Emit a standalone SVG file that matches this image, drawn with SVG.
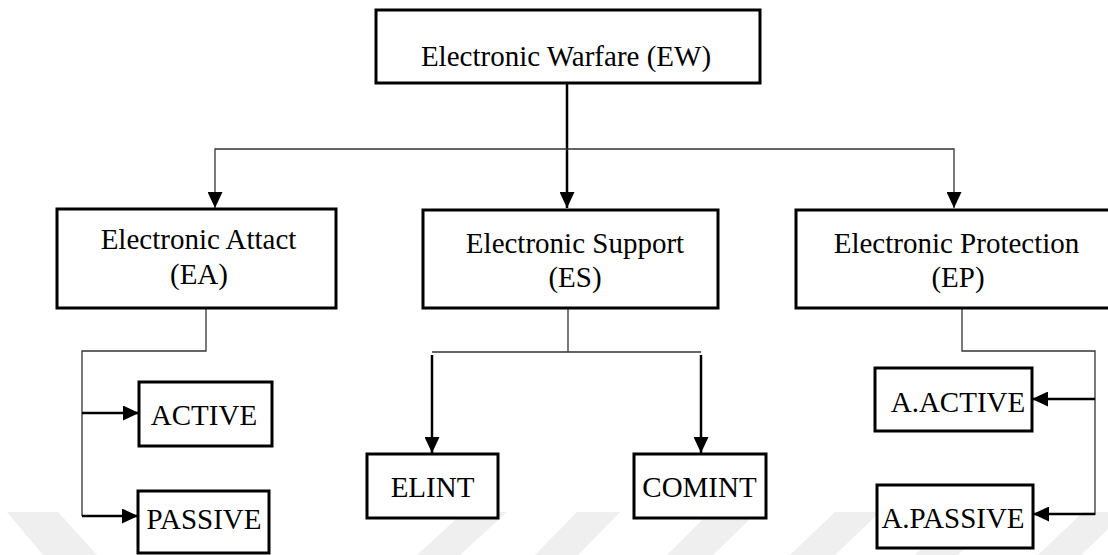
<svg xmlns="http://www.w3.org/2000/svg" width="1108" height="555" viewBox="0 0 1108 555">
<style>
.box{fill:#fff;stroke:#000;stroke-width:3}
.t{font-family:"Liberation Serif","Times New Roman",serif;font-size:29px;fill:#000;text-anchor:middle}
.thin{fill:none;stroke:#333;stroke-width:1.3}
.thick{fill:none;stroke:#000;stroke-width:2.5}
.wm{fill:#efefef}
</style>
<defs>
<marker id="arr" viewBox="0 0 16 15" refX="16" refY="7.5" markerWidth="16" markerHeight="15" markerUnits="userSpaceOnUse" orient="auto"><path d="M0,0 L16,7.5 L0,15 z" fill="#000"/></marker>
</defs>
<g id="watermark">
<polygon class="wm" points="7,512 58,512 97,555 43,555"/>
<polygon class="wm" points="464,512 507,512 460,555 417,555"/>
<polygon class="wm" points="577,512 620,512 578,555 535,555"/>
<polygon class="wm" points="710,512 757,512 713,555 667,555"/>
<polygon class="wm" points="835,512 880,512 835,555 790,555"/>
<polygon class="wm" points="960,512 1003,512 958,555 915,555"/>
<polygon class="wm" points="1083,512 1126,512 1081,555 1038,555"/>
</g>
<g id="connectors">
<path class="thick" d="M567,83 V208" marker-end="url(#arr)"/>
<path class="thin" d="M567,149 H215 V208" marker-end="url(#arr)"/>
<path class="thin" d="M567,149 H954 V208" marker-end="url(#arr)"/>
<path class="thin" d="M206,308 V351 H82 V516"/>
<path class="thick" d="M82,413 H139" stroke-width="3" marker-end="url(#arr)"/>
<path class="thick" d="M82,516 H138" stroke-width="3" marker-end="url(#arr)"/>
<path class="thin" d="M568,308 V352 M432,352 H701"/>
<path class="thick" d="M432,355 V453" stroke-width="2" marker-end="url(#arr)"/>
<path class="thick" d="M701,355 V453" stroke-width="2" marker-end="url(#arr)"/>
<path class="thin" d="M962,308 V351 H1095 V515"/>
<path class="thick" d="M1095,399 H1032" stroke-width="3" marker-end="url(#arr)"/>
<path class="thick" d="M1095,514 H1033" stroke-width="3" marker-end="url(#arr)"/>
</g>
<g id="ew"><rect class="box" x="376" y="10" width="384" height="73"/><text class="t" x="566" y="66">Electronic Warfare (EW)</text></g>
<g id="ea"><rect class="box" x="57" y="209" width="279" height="99"/><text class="t" x="198.5" y="249">Electronic Attact</text><text class="t" x="199" y="284">(EA)</text></g>
<g id="es"><rect class="box" x="423" y="210" width="295" height="98"/><text class="t" x="575" y="253">Electronic Support</text><text class="t" x="575" y="287">(ES)</text></g>
<g id="ep"><rect class="box" x="796" y="210" width="321" height="98"/><text class="t" x="956.5" y="253">Electronic Protection</text><text class="t" x="958" y="287">(EP)</text></g>
<g id="active"><rect class="box" x="139" y="382" width="133" height="64"/><text class="t" x="204" y="425">ACTIVE</text></g>
<g id="passive"><rect class="box" x="138" y="491" width="131" height="62"/><text class="t" x="204" y="529">PASSIVE</text></g>
<g id="elint"><rect class="box" x="367" y="454" width="131" height="64"/><text class="t" x="432.5" y="497">ELINT</text></g>
<g id="comint"><rect class="box" x="634" y="454" width="132" height="64"/><text class="t" x="699.5" y="497">COMINT</text></g>
<g id="aactive"><rect class="box" x="875" y="368" width="157" height="63"/><text class="t" x="958" y="412">A.ACTIVE</text></g>
<g id="apassive"><rect class="box" x="877" y="485" width="156" height="63"/><text class="t" x="953" y="528">A.PASSIVE</text></g>
</svg>
